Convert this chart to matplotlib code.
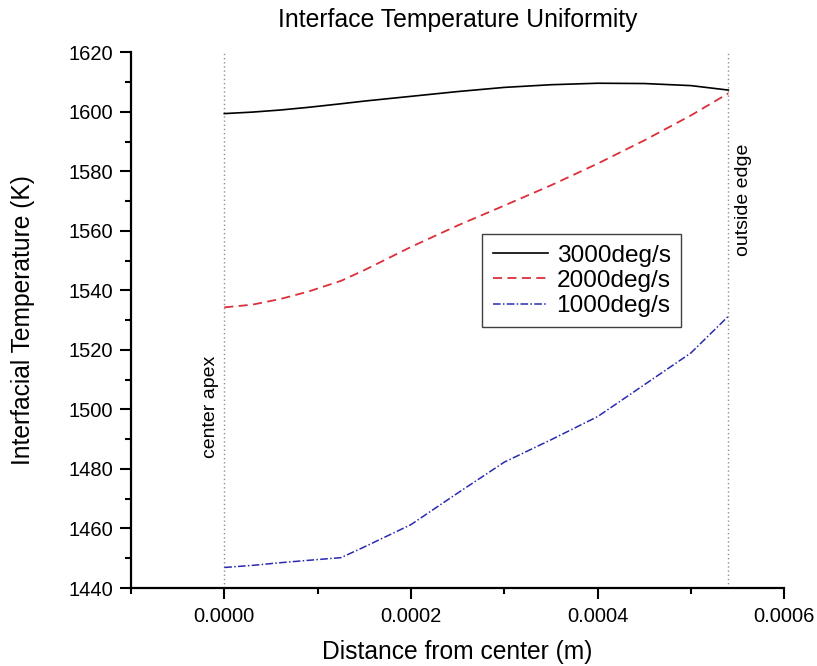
import matplotlib
matplotlib.use("Agg")
import matplotlib.pyplot as plt
from matplotlib.ticker import MultipleLocator

plt.rcParams['font.family'] = ['Liberation Sans', 'DejaVu Sans']

# Data (distance in m, temperature in K)
distance = [0.0, 0.00003, 0.00006, 0.00009, 0.000125, 0.00015, 0.0002, 0.00025,
            0.0003, 0.00035, 0.0004, 0.00045, 0.0005, 0.00054]
temp_3000 = [1599.4, 1599.9, 1600.6, 1601.5, 1602.7, 1603.6, 1605.2, 1606.8,
             1608.2, 1609.1, 1609.6, 1609.5, 1608.8, 1607.3]
temp_2000 = [1534.3, 1535.2, 1537.1, 1539.6, 1543.2, 1546.8, 1554.6, 1561.8,
             1568.5, 1575.3, 1582.6, 1590.4, 1598.8, 1606.2]
temp_1000 = [1446.9, 1447.6, 1448.5, 1449.3, 1450.2, 1453.8, 1461.3, 1471.9,
             1482.3, 1489.8, 1497.6, 1508.3, 1519.0, 1531.3]
series_labels = ['3000deg/s', '2000deg/s', '1000deg/s']
marker_x = [0.0, 0.00054]
marker_labels = ['center apex', 'outside edge']
xtick_values = [0.0, 0.0002, 0.0004, 0.0006]
xtick_labels = ['0.0000', '0.0002', '0.0004', '0.0006']

fig = plt.figure(figsize=(8.17, 6.66), dpi=100)
ax = fig.add_axes([0.1603, 0.1171, 0.96 - 0.1603, 0.9215 - 0.1171])

ax.plot(distance, temp_3000, color='black', lw=1.2, ls='-', label=series_labels[0])
ax.plot(distance, temp_2000, color='#dc2f3a', lw=1.3, ls=(0, (5, 3)), label=series_labels[1])
ax.plot(distance, temp_1000, color='#2a2ab0', lw=1.1, ls=(0, (5, 1.5, 1, 1.5)), label=series_labels[2])

for xv in marker_x:
    ax.axvline(xv, color='#909090', lw=1.0, ls=(0, (1, 2)), zorder=0)

ax.text(-0.0000147, 1500.9, marker_labels[0], rotation=90, ha='center', va='center', fontsize=14)
ax.text(0.000556, 1570.4, marker_labels[1], rotation=90, ha='center', va='center', fontsize=14)

ax.set_xlim(-0.0001, 0.0006)
ax.set_ylim(1440, 1620)
ax.xaxis.set_minor_locator(MultipleLocator(0.0001))
ax.yaxis.set_major_locator(MultipleLocator(20))
ax.yaxis.set_minor_locator(MultipleLocator(10))
ax.set_xticks(xtick_values)
ax.set_xticklabels(xtick_labels)

for s in ['top', 'right']:
    ax.spines[s].set_visible(False)
for s in ['left', 'bottom']:
    ax.spines[s].set_linewidth(1.6)

ax.tick_params(which='major', direction='out', length=8, width=1.5, labelsize=14.5)
ax.tick_params(which='minor', direction='out', length=4.5, width=1.5)
ax.tick_params(axis='x', which='major', pad=5.5)
ax.tick_params(axis='y', which='major', pad=5)

ax.set_xlabel('Distance from center (m)', fontsize=17.7, labelpad=10)
ax.set_ylabel('Interfacial Temperature (K)', fontsize=17.7, labelpad=24)
ax.set_title('Interface Temperature Uniformity', fontsize=17.8, pad=18)

leg = ax.legend(loc='upper left', bbox_to_anchor=(0.5377, 0.6603), borderaxespad=0,
                fontsize=17.6, frameon=True, fancybox=False, framealpha=1,
                edgecolor='#404040', handlelength=2.25, handletextpad=0.37,
                labelspacing=0.13, borderpad=0.42)
leg.get_frame().set_linewidth(1.0)

fig.savefig('out.png', dpi=100)
